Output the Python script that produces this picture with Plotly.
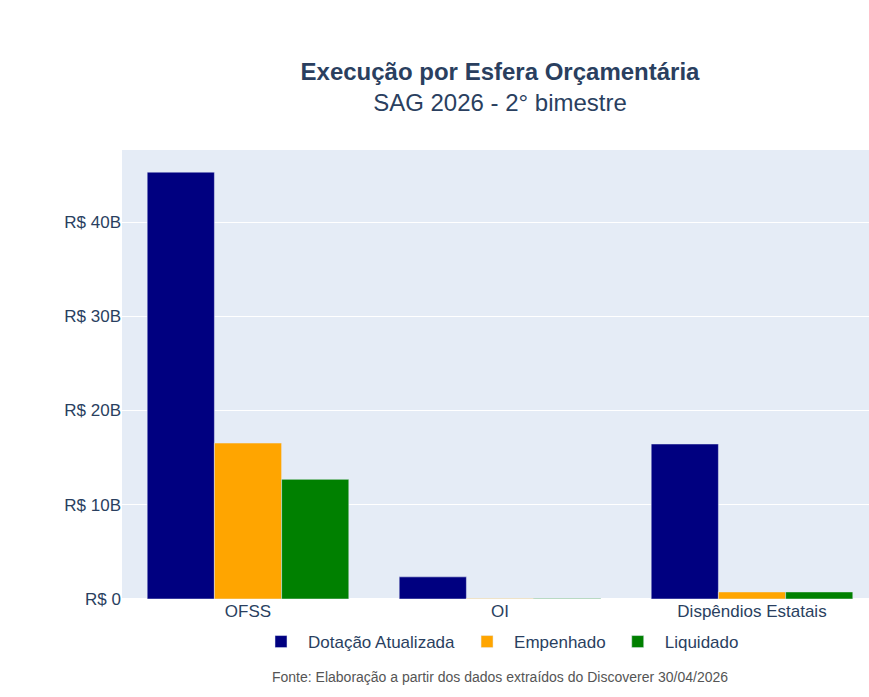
import plotly.graph_objects as go

categorias = ["OFSS", "OI", "Dispêndios Estatais"]
dotacao = [45.3e9, 2.35e9, 16.45e9]
empenhado = [16.55e9, 0.05e9, 0.75e9]
liquidado = [12.7e9, 0.04e9, 0.75e9]

series = [
    ("Dotação Atualizada", dotacao, "#000080"),
    ("Empenhado", empenhado, "#FFA500"),
    ("Liquidado", liquidado, "#008000"),
]

W, H = 869, 697
FONT = "Liberation Sans, Arial, sans-serif"

fig = go.Figure()
for nome, vals, cor in series:
    fig.add_trace(go.Bar(name=nome, x=categorias, y=vals, marker_color=cor))

fig.update_layout(
    template="plotly",
    width=W, height=H,
    font=dict(family=FONT, size=17, color="#2a3f5f"),
    barmode="group",
    margin=dict(l=122, r=0, t=150, b=98),
    title=dict(
        text="<b>Execução por Esfera Orçamentária</b><br><span style='font-size:24px'>SAG 2026 - 2° bimestre</span>",
        x=500 / W, xanchor="center", xref="container",
        y=1 - 80 / H, yanchor="top", yref="container",
        font=dict(size=24, family=FONT, color="#2a3f5f"),
    ),
    legend=dict(
        orientation="h", xref="container", x=499 / W, xanchor="center",
        yref="container", y=1 - 642 / H, yanchor="middle",
        font=dict(size=17), itemwidth=44,
    ),
    annotations=[dict(
        text="Fonte: Elaboração a partir dos dados extraídos do Discoverer 30/04/2026",
        xref="paper", yref="paper", x=(500 - 122) / (W - 122), y=(599 - 677) / 449,
        xanchor="center", yanchor="middle", showarrow=False,
        font=dict(size=14, color="#555555", family=FONT),
    )],
)
fig.update_xaxes(range=[-0.5, -0.5 + 747 / 252], tickfont=dict(size=17))
fig.update_yaxes(tickprefix="R$ ", exponentformat="B", dtick=10e9, tickfont=dict(size=17),
                 range=[0, 47.65e9])

fig.write_html("out.html", config={"displayModeBar": False},
               post_script="document.body.style.margin='0';document.body.style.overflow='hidden';")
